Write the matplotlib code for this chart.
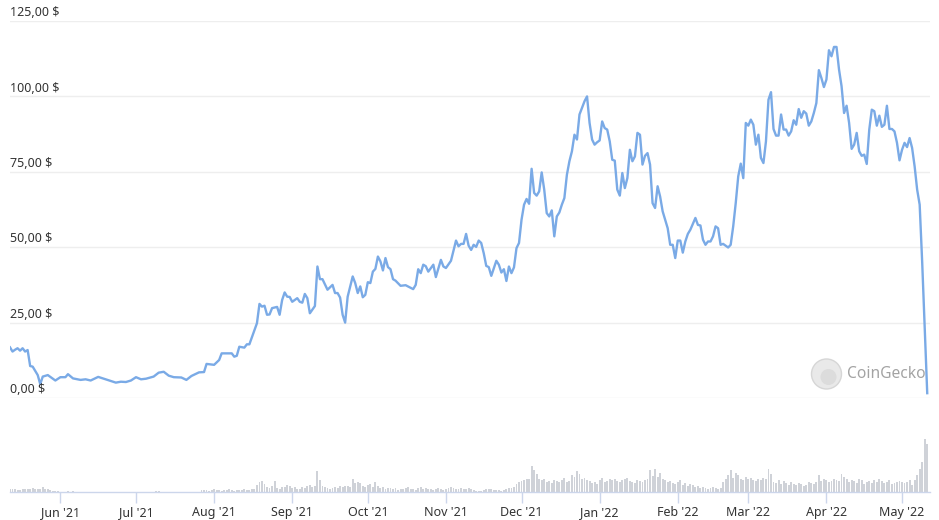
import numpy as np
import matplotlib
matplotlib.use("Agg")
import matplotlib.pyplot as plt
import matplotlib.dates as mdates
import matplotlib.transforms as mtransforms
from matplotlib.patches import Circle

plt.rcParams['font.family'] = ['Noto Sans', 'DejaVu Sans']

start = np.datetime64('2021-05-12')

# price: day offset from start, USD
price_day = [0, 1, 2, 3, 4, 5, 6, 7, 8, 9, 11, 12, 13, 15, 18, 20, 22, 23, 25, 28,
             30, 32, 35, 38, 42, 44, 46, 48, 50, 52, 54, 57, 59, 61, 63, 65, 68, 70, 72, 75,
             77, 78, 81, 83, 84, 88, 89, 90, 91, 93, 94, 95, 98, 99, 100, 101, 102, 103, 104, 106,
             107, 108, 109, 110, 111, 112, 114, 115, 116, 117, 118, 119, 121, 122, 123, 124, 126, 128, 129, 130,
             131, 132, 133, 134, 136, 137, 138, 139, 140, 141, 142, 143, 144, 145, 146, 147, 148, 149, 150, 151,
             152, 153, 155, 157, 160, 161, 162, 163, 164, 165, 166, 168, 169, 171, 172, 173, 175, 177, 178, 179,
             180, 181, 182, 183, 184, 185, 186, 187, 188, 189, 190, 191, 193, 194, 195, 196, 197, 198, 199, 200,
             201, 202, 203, 204, 205, 206, 207, 208, 209, 210, 211, 212, 213, 214, 215, 216, 217, 218, 219, 220,
             221, 222, 223, 224, 225, 226, 227, 228, 229, 230, 231, 232, 233, 234, 235, 236, 237, 238, 239, 240,
             241, 242, 243, 244, 245, 246, 247, 248, 249, 250, 251, 252, 253, 254, 255, 256, 257, 258, 259, 261,
             262, 263, 264, 265, 266, 267, 268, 269, 270, 272, 273, 274, 275, 276, 277, 278, 279, 280, 281, 282,
             283, 285, 286]
price = [16.8, 15.4, 16.0, 16.5, 15.7, 16.5, 15.4, 15.9, 10.6, 10.4, 7.6, 4.6, 7.1, 7.6, 5.8, 6.9, 6.9, 7.9, 6.5, 6.0,
         6.2, 5.8, 7.0, 6.2, 5.1, 5.4, 5.3, 5.8, 6.9, 6.2, 6.4, 7.1, 8.4, 8.7, 7.4, 6.9, 6.8, 6.0, 7.3, 8.5,
         8.6, 11.3, 11.0, 12.6, 14.8, 14.8, 13.7, 14.0, 17.0, 16.7, 17.8, 17.8, 24.8, 31.2, 30.3, 30.6, 27.6, 27.7, 29.8, 30.2,
         27.6, 32.5, 35.0, 33.6, 33.5, 31.9, 33.1, 31.9, 31.6, 34.5, 33.1, 28.1, 30.5, 43.6, 39.4, 39.4, 35.9, 37.5, 34.8, 34.8,
         33.3, 27.6, 25.0, 33.6, 40.3, 38.1, 34.8, 37.0, 33.4, 34.2, 38.4, 38.1, 41.9, 42.8, 46.9, 45.3, 42.3, 46.4, 43.4, 42.7,
         39.4, 38.9, 37.2, 37.4, 36.1, 37.5, 42.7, 41.4, 44.2, 43.7, 41.9, 44.2, 40.1, 45.8, 43.6, 43.1, 45.5, 52.2, 50.3, 51.1,
         51.1, 54.4, 50.5, 49.1, 50.8, 50.1, 52.2, 51.4, 48.0, 43.8, 43.4, 40.5, 45.5, 44.2, 41.6, 42.7, 38.8, 43.6, 41.4, 43.3,
         49.7, 51.4, 59.1, 64.1, 66.0, 64.4, 76.0, 68.0, 67.1, 68.5, 74.8, 69.1, 61.3, 60.2, 62.2, 53.6, 60.2, 61.5, 64.1, 66.3,
         74.0, 78.5, 81.8, 87.3, 85.7, 94.0, 96.2, 98.4, 100.0, 91.2, 85.7, 84.0, 84.8, 85.4, 91.7, 89.5, 89.0, 85.1, 79.0, 78.7,
         69.1, 67.1, 74.6, 69.6, 72.9, 82.3, 78.5, 80.1, 87.9, 87.3, 77.4, 80.3, 81.2, 77.4, 64.6, 63.0, 70.2, 66.8, 61.9, 56.3,
         50.8, 50.8, 46.4, 52.2, 52.2, 48.2, 51.9, 54.4, 55.8, 59.7, 57.4, 57.2, 52.5, 50.8, 51.9, 51.9, 53.6, 56.9, 56.3, 50.8,
         51.1, 49.9, 50.8]
# daily from day 287 to 364
price_daily_tail = [56.9, 64.6, 73.5, 77.7, 72.9, 91.2, 90.3, 92.3, 90.6, 84.0, 87.3, 79.6, 77.9, 85.1, 98.9, 101.4,
                    89.2, 87.0, 87.0, 94.0, 89.0, 89.0, 87.0, 88.4, 92.1, 90.6, 95.8, 92.9, 95.1, 94.3, 90.3, 91.7,
                    94.5, 97.8, 108.7, 106.1, 103.1, 105.6, 115.3, 113.3, 116.4, 116.4, 108.9, 103.4, 94.5, 96.9,
                    91.2, 82.6, 84.0, 87.9, 81.8, 80.3, 80.7, 77.6, 89.0, 95.6, 95.1, 90.3, 93.6, 89.9, 90.6, 96.9,
                    89.2, 89.2, 88.4, 84.6, 78.8, 82.3, 84.6, 83.2, 86.2, 82.9, 76.8, 69.1, 64.1, 45.0, 23.0, 1.6]

# daily volume (arbitrary units, hundreds of millions USD), day 0..364
volume = [3, 3, 3, 2, 2, 3, 3, 3, 3, 4, 3, 3, 3, 5, 3, 3, 2, 1, 1, 1,
          0.3, 0.3, 0.3, 1, 0.3, 1, 0.3, 0.3, 0.3, 0.3, 0.3, 0.3, 0.3, 0.3, 0.3, 0.3, 0.3, 0.3, 0.3, 0.3,
          0.3, 0.3, 0.3, 0.3, 0.3, 0.3, 0.3, 0.3, 0.3, 0.3, 0.3, 0.3, 0.3, 0.3, 0.3, 0.3, 0.3, 0.3, 1, 1,
          0.3, 0.3, 0.3, 0.3, 0.3, 0.3, 0.3, 0.3, 0.3, 0.3, 0.3, 0.3, 0.3, 0.3, 0.3, 0.3,
          2, 2, 2, 1, 2, 3, 2, 2, 1, 2, 2, 3, 2, 1, 2, 2, 2, 3, 2, 2, 3, 3,
          7, 10, 11, 8,
          5, 4, 6, 11, 4, 3, 5, 5, 7, 6, 4, 5, 3, 3, 5, 4, 6, 7, 5, 6,
          21, 12, 6,
          5, 4, 3, 4, 5, 4, 6, 5, 6, 6, 5,
          13, 9, 10, 9,
          6, 5, 7, 8, 5, 10, 6,
          4, 5, 3, 4, 4, 3, 4, 2, 3, 3, 4, 5, 3, 3, 2, 4, 5, 3, 4, 3, 3, 2, 3, 4, 3, 2, 3, 4, 5, 4, 3, 3, 4, 3, 3,
          4, 3, 2, 1, 1, 1, 2, 3, 3, 3, 2, 2, 2, 1, 2, 3, 4, 4,
          5, 8, 10, 11, 12, 13, 13,
          26, 22, 18, 13,
          12, 13, 10, 11, 9, 12, 11, 10, 12, 14, 10, 11,
          17, 15, 21, 18, 13, 14, 12,
          11, 9, 10, 8, 12, 14, 10, 11, 13, 12, 13,
          11, 10, 12, 13, 14, 11, 10, 9, 12, 11, 10, 12, 13,
          22, 16, 23, 15, 19,
          13, 12, 10, 11, 9, 8, 10, 12, 7, 9, 6, 8, 7, 5, 6, 4, 5, 4, 3, 4, 5, 4, 3, 4,
          10, 13, 17, 22, 14, 19, 17, 13,
          12, 15, 13, 14, 12, 11, 13, 12, 14, 13,
          23, 18,
          10, 9, 12, 8, 11, 9, 7, 10, 8, 7, 9, 8, 6, 7, 10, 9, 8, 10,
          17,
          11, 13, 12, 10, 11, 13, 12, 11,
          18, 15, 13,
          10, 12, 11, 9, 13, 12, 8, 10, 11, 9, 12, 10, 13, 11, 9, 10, 12, 8, 9, 10, 11, 10, 9, 10, 12,
          7, 12, 17, 23, 30, 53, 48]

y_ticks = [0, 25, 50, 75, 100, 125]

days = np.array(price_day + list(range(287, 287 + len(price_daily_tail))))
values = np.array(price + price_daily_tail)
dates = start + days.astype('timedelta64[D]')
vol_dates = start + np.arange(len(volume)).astype('timedelta64[D]')

x0 = mdates.date2num(start)
x1 = x0 + 365.1

fig = plt.figure(figsize=(9.39, 5.2), dpi=100)
W, H = 939, 520

ax = fig.add_axes([10 / W, (H - 398) / H, 920 / W, 377 / H])
ax.plot(dates, values, color='#7aaae6', lw=1.7, solid_joinstyle='round', zorder=3)
ax.set_xlim(x0, x1)
ax.set_ylim(0, 125)
ax.set_yticks(y_ticks)
ax.yaxis.grid(True, color='#eeeeee', lw=1.0)
ax.tick_params(left=False, labelleft=False, bottom=False, labelbottom=False)
for s in ax.spines.values():
    s.set_visible(False)
trans = mtransforms.blended_transform_factory(ax.transAxes, ax.transData)
for v in y_ticks:
    lab = f"{v:.2f}".replace('.', ',') + " $"
    ax.text(0, v + 0.6, lab, transform=trans, ha='left', va='bottom',
            fontsize=9, color='#333333', zorder=4)

# watermark (circle in inches so it stays round)
fig.patches.append(Circle((8.265, (H - 374) / 100), 0.15, transform=fig.dpi_scale_trans,
                          facecolor='#e9e9e9', edgecolor='#d6d6d6', lw=1))
fig.patches.append(Circle((8.285, (H - 377) / 100), 0.08, transform=fig.dpi_scale_trans,
                          facecolor='#dcdcdc', edgecolor='none'))
fig.text(847 / W, (H - 374) / H, "CoinGecko", fontsize=11.2, color='#a3a3a3',
         ha='left', va='center')

# volume panel
vax = fig.add_axes([10 / W, (H - 492) / H, 920 / W, 92 / H])
vax.bar(vol_dates, volume, width=0.75, color='#cfd2d8', align='center')
vax.set_xlim(x0, x1)
vax.set_ylim(0, 92)
vax.set_yticks([])
for s in ['top', 'left', 'right']:
    vax.spines[s].set_visible(False)
vax.spines['bottom'].set_color('#ccd6eb')
vax.spines['bottom'].set_linewidth(1)
vax.xaxis.set_major_locator(mdates.MonthLocator())
vax.xaxis.set_major_formatter(mdates.DateFormatter("%b '%y"))
vax.tick_params(axis='x', length=8, color='#ccd6eb', width=1, labelsize=9,
                labelcolor='#333333', pad=2)
vax.patch.set_alpha(0)

fig.savefig("out.png", dpi=100)
